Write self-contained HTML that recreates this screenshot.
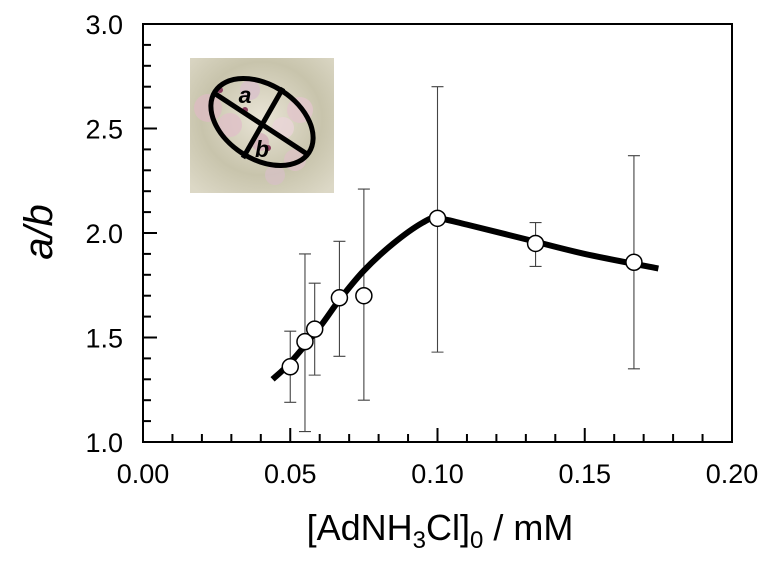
<!DOCTYPE html>
<html><head><meta charset="utf-8"><style>
body{margin:0;background:#fff;}
svg{display:block;font-family:"Liberation Sans",Arial,sans-serif;}
</style></head><body>
<svg id="chart" width="768" height="565" viewBox="0 0 768 565">
<rect x="0" y="0" width="768" height="565" fill="#fff"/>
<g id="inset">
<defs><radialGradient id="bg" cx="0.5" cy="0.45" r="0.7"><stop offset="0" stop-color="#e9e4d6"/><stop offset="0.6" stop-color="#c8c4ac"/><stop offset="1" stop-color="#dcd8c6"/></radialGradient></defs>
<rect x="190" y="58" width="144" height="135" fill="url(#bg)"/>
<circle cx="208" cy="108" r="14" fill="#dcbcc2" opacity="0.8"/>
<circle cx="230" cy="125" r="12" fill="#e0c0c8" opacity="0.8"/>
<circle cx="250" cy="90" r="10" fill="#d9c0cc" opacity="0.8"/>
<circle cx="300" cy="110" r="13" fill="#e2c6cc" opacity="0.8"/>
<circle cx="283" cy="128" r="11" fill="#ead4d8" opacity="0.8"/>
<circle cx="295" cy="160" r="11" fill="#dcc2c6" opacity="0.8"/>
<circle cx="275" cy="175" r="10" fill="#d6c0c4" opacity="0.8"/>
<circle cx="260" cy="142" r="9" fill="#d4b0bc" opacity="0.8"/>
<circle cx="220" cy="90" r="3" fill="#8a4060"/>
<circle cx="268" cy="148" r="3" fill="#8a4060"/>
<circle cx="245" cy="110" r="3" fill="#8a4060"/>
<ellipse cx="262" cy="122" rx="56" ry="37" transform="rotate(33 262 122)" fill="none" stroke="#000" stroke-width="5"/>
<line x1="214" y1="93" x2="307" y2="154" stroke="#000" stroke-width="5"/>
<line x1="283" y1="88" x2="243" y2="158" stroke="#000" stroke-width="5"/>
<text x="245" y="103" font-size="23" font-weight="bold" font-style="italic" text-anchor="middle">a</text>
<text x="262" y="157" font-size="23" font-weight="bold" font-style="italic" text-anchor="middle">b</text>
</g>
<g id="plot"></g>
<text x="440" y="540" font-size="36" text-anchor="middle">[AdNH<tspan font-size="24" dy="8">3</tspan><tspan dy="-8">Cl]</tspan><tspan font-size="24" dy="8">0</tspan><tspan dy="-8"> / mM</tspan></text>
<text transform="translate(52,232) rotate(-90)" font-size="40" font-style="italic" text-anchor="middle">a/b</text>
</svg>
<script>
const xs=[0.05,0.055,0.0583,0.0667,0.075,0.1,0.1333,0.1667];
const ys=[1.36,1.48,1.54,1.69,1.70,2.07,1.95,1.86];
const errLo=[1.19,1.05,1.32,1.41,1.20,1.43,1.84,1.35];
const errHi=[1.53,1.90,1.76,1.96,2.21,2.70,2.05,2.37];
const fitX=[0.044,0.05,0.06,0.0667,0.075,0.085,0.095,0.1,0.11,0.13,0.15,0.175];
const fitY=[1.30,1.38,1.55,1.68,1.82,1.95,2.05,2.07,2.04,1.97,1.90,1.83];
const xTicks=["0.00","0.05","0.10","0.15","0.20"];
const yTicks=["1.0","1.5","2.0","2.5","3.0"];
const L=143,R=732,T=24,B=442;
const sx=v=>L+(v-0)/(0.20)*(R-L);
const sy=v=>B-(v-1)/(2)*(B-T);
const NS="http://www.w3.org/2000/svg";
const g=document.getElementById('plot');
function mk(t,a){const e=document.createElementNS(NS,t);for(const k in a)e.setAttribute(k,a[k]);g.appendChild(e);return e;}
const frame=mk('rect',{x:L,y:T,width:R-L,height:B-T,fill:'none',stroke:'#000','stroke-width':2});


for(let i=0;i<=20;i++){const v=i*0.01,x=sx(v),len=i%5===0?14:8;
const t=mk('line',{x1:x,y1:B,x2:x,y2:B-len,stroke:'#000','stroke-width':2});

}
for(let i=0;i<=20;i++){const v=1+i*0.1,y=sy(v),len=i%5===0?14:8;
const t=mk('line',{x1:L,y1:y,x2:L+len,y2:y,stroke:'#000','stroke-width':2});

}
xTicks.forEach(s=>{const t=mk('text',{x:sx(+s),y:B+41,'font-size':27,'text-anchor':'middle'});t.textContent=s;

});
yTicks.forEach(s=>{const t=mk('text',{x:L-20,y:sy(+s)+10,'font-size':27,'text-anchor':'end'});t.textContent=s;

});
xs.forEach((v,i)=>{const x=sx(v);
const e=mk('path',{d:`M${x},${sy(errLo[i])}V${sy(errHi[i])}M${x-6},${sy(errLo[i])}H${x+6}M${x-6},${sy(errHi[i])}H${x+6}`,stroke:'#444','stroke-width':1.1,fill:'none'});

});
const P=fitX.map((v,i)=>[sx(v),sy(fitY[i])]);
let d=`M${P[0][0]},${P[0][1]}`;
for(let i=0;i<P.length-1;i++){const p0=P[i-1]||P[i],p1=P[i],p2=P[i+1],p3=P[i+2]||p2;
d+=`C${p1[0]+(p2[0]-p0[0])/6},${p1[1]+(p2[1]-p0[1])/6} ${p2[0]-(p3[0]-p1[0])/6},${p2[1]-(p3[1]-p1[1])/6} ${p2[0]},${p2[1]}`;}
const c=mk('path',{d:d,stroke:'#000','stroke-width':6,fill:'none'});


xs.forEach((v,i)=>{const p=mk('circle',{cx:sx(v),cy:sy(ys[i]),r:8,fill:'#fff',stroke:'#000','stroke-width':1.5});

});
</script>
</body></html>
